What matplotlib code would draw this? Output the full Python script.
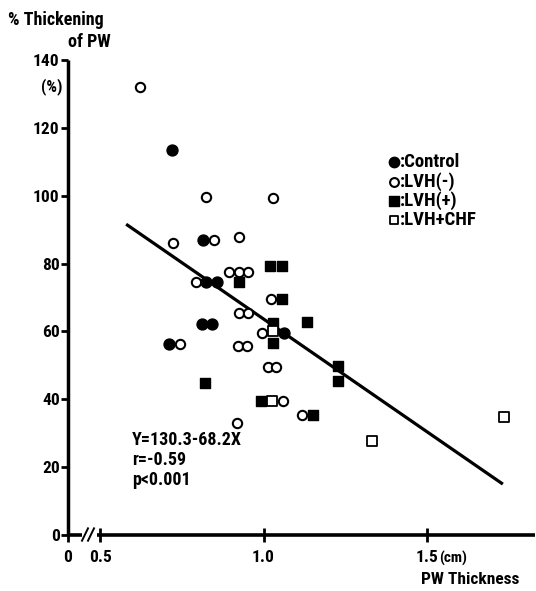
#!/usr/bin/env python3
import matplotlib
matplotlib.use('Agg')
import matplotlib.pyplot as plt
from matplotlib import font_manager

# Data
control_x = [0.72, 0.815, 0.824, 0.858, 0.812, 0.843, 0.711, 1.063]
control_y = [113.4, 86.9, 74.5, 74.5, 62.2, 62.2, 56.3, 59.5]

lvh_neg_x = [0.622, 0.824, 1.029, 0.723, 0.849, 0.925, 0.794, 0.894, 0.925, 0.953, 1.023,
             0.925, 0.953, 0.995, 0.745, 0.922, 0.950, 1.014, 1.038, 1.060, 1.118, 0.919]
lvh_neg_y = [132.0, 99.6, 99.2, 86.0, 86.9, 87.8, 74.5, 77.5, 77.5, 77.5, 69.5,
             65.4, 65.4, 59.5, 56.3, 55.7, 55.7, 49.5, 49.5, 39.5, 35.3, 33.0]

lvh_pos_x = [1.020, 1.057, 0.925, 1.057, 1.133, 1.029, 1.029, 0.821, 1.228, 1.228, 0.992, 1.151]
lvh_pos_y = [79.2, 79.2, 74.5, 69.5, 62.7, 62.4, 56.5, 44.8, 49.8, 45.4, 39.5, 35.3]

chf_x = [1.029, 1.026, 1.332, 1.735]
chf_y = [60.0, 39.5, 27.7, 34.8]

# regression line as drawn (Y = 130.3 - 68.2X)
line_x = [0.58, 1.732]
line_y = [91.6, 15.0]
stats = 'Y=130.3-68.2X\nr=-0.59\np<0.001'

xticks = [0.5, 1.0, 1.5]
xticklabels = ['0.5', '1.0', '1.5']
yticks = [0, 20, 40, 60, 80, 100, 120, 140]


def pick_font():
    names = {f.name for f in font_manager.fontManager.ttflist}
    for n in ['Liberation Sans Narrow', 'Roboto Condensed', 'Open Sans Condensed', 'DejaVu Sans']:
        if n in names:
            return n
    return 'DejaVu Sans'


def draw():
    fam = pick_font()
    plt.rcParams['font.family'] = [fam, 'DejaVu Sans']
    plt.rcParams['font.weight'] = 'bold'

    W, H = 536, 591
    fig = plt.figure(figsize=(W / 100, H / 100), dpi=100, facecolor='white')
    ax = fig.add_axes([68 / W, 1 - 535 / H, 467 / W, 475 / H])

    x0 = 0.5 - 32 / 327  # where the broken axis puts "0"
    ax.set_xlim(x0, 0.5 + 435 / 327)
    ax.set_ylim(0, 140)

    # Plotting
    ax.plot(line_x, line_y, color='black', lw=2.3, solid_capstyle='butt', zorder=2)

    ax.scatter(lvh_neg_x, lvh_neg_y, s=45, facecolor='white', edgecolor='black',
               linewidth=1.5, marker='o', zorder=3, label=':LVH(-)')
    ax.scatter(control_x, control_y, s=62, color='black', marker='o', zorder=4,
               label=':Control')
    ax.scatter(lvh_pos_x, lvh_pos_y, s=60, color='black', marker='s', zorder=4,
               label=':LVH(+)')
    ax.scatter(chf_x, chf_y, s=45, facecolor='white', edgecolor='black',
               linewidth=1.3, marker='s', zorder=5, label=':LVH+CHF')

    # Axes
    for s in ['top', 'right', 'bottom']:
        ax.spines[s].set_visible(False)
    ax.spines['left'].set_linewidth(2.5)
    ax.spines['left'].set_capstyle('butt')

    trans = ax.get_xaxis_transform()
    gap_l, gap_r = x0 + 14 / 327, x0 + 29 / 327
    ax.plot([x0, gap_l], [0, 0], color='black', lw=2.6, transform=trans, clip_on=False,
            solid_capstyle='butt')
    ax.plot([gap_r, ax.get_xlim()[1]], [0, 0], color='black', lw=2.6, transform=trans,
            clip_on=False, solid_capstyle='butt')
    for dx in (0, 6 / 327):
        ax.plot([gap_l + dx, gap_l + dx + 6 / 327], [-0.012, 0.014], color='black', lw=1.4,
                transform=trans, clip_on=False)

    ax.set_xticks([x0] + xticks)
    ax.set_xticklabels(['0'] + xticklabels)
    ax.set_yticks(yticks)
    ax.tick_params(axis='y', direction='out', length=5, width=2, labelsize=12.5, pad=1)
    ax.tick_params(axis='x', direction='inout', length=10, width=2, labelsize=12.5, pad=5.5)
    for lbl in ax.get_xticklabels() + ax.get_yticklabels():
        lbl.set_fontweight('bold')

    # "(cm)" sits right after the 1.5 tick label, on its baseline
    fig.canvas.draw()
    bb = ax.get_xticklabels()[-1].get_window_extent()
    fig.text((bb.x1 + 1) / W, (bb.y0 - 1) / H, '(cm)', fontsize=11, fontweight='bold',
             ha='left', va='bottom')

    # Texts
    fig.text(8 / W, 1 - 20 / H, '% Thickening', fontsize=13, fontweight='bold', va='center')
    fig.text(68 / W, 1 - 42 / H, 'of PW', fontsize=13, fontweight='bold', va='center')
    fig.text(62 / W, 1 - 87 / H, '(%)', fontsize=12, fontweight='bold', va='center', ha='right')
    fig.text(519 / W, 1 - 580 / H, 'PW Thickness', fontsize=12.5, fontweight='bold',
             va='center', ha='right')

    ax.text(0.598, 22.1, stats, fontsize=13, fontweight='bold',
            va='center', ha='left', linespacing=1.15)

    # Legend
    handles, labels = ax.get_legend_handles_labels()
    order = [1, 0, 2, 3]
    ax.legend([handles[i] for i in order], [labels[i] for i in order],
              loc='upper left', bbox_to_anchor=((389 - 68) / 467, (535 - 153) / 475),
              frameon=False, handlelength=0.55, handletextpad=0.05, labelspacing=0.05,
              borderpad=0, borderaxespad=0, markerscale=0.95,
              prop={'size': 13.5, 'weight': 'bold'})

    # Saving
    plt.savefig('out.png', facecolor=fig.get_facecolor(), dpi=100)


if __name__ == '__main__':
    draw()
